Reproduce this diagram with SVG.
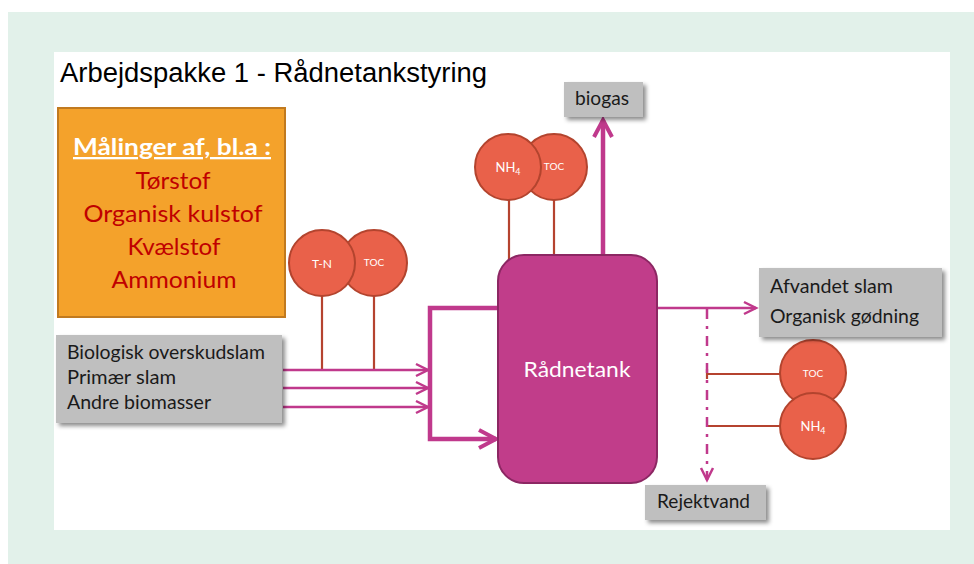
<svg xmlns="http://www.w3.org/2000/svg" width="974" height="564" viewBox="0 0 974 564">
<defs>
<style>
.cal{font-family:Lato,"Open Sans","Noto Sans",sans-serif}
.gbox{fill:#bfbfbf;filter:url(#sh)}
.gtxt{font-size:19px;fill:#1a1a1a}
.circ{fill:#e9614a;stroke:#b3442e;stroke-width:2}
.ctxt{fill:#ffffff;text-anchor:middle}
.stem{stroke:#b5432f;stroke-width:2.2;fill:none}
.pk{stroke:#c0398c;fill:none;stroke-linejoin:miter}
.thin{stroke-width:2.5}
.thick{stroke-width:4.5}
.ored{font-size:23px;fill:#c00000;text-anchor:middle}
</style>
<filter id="sh" x="-10%" y="-10%" width="130%" height="140%">
<feDropShadow dx="3" dy="3" stdDeviation="2" flood-color="#000" flood-opacity="0.45"/>
</filter>
<marker id="ah" markerUnits="userSpaceOnUse" markerWidth="16" markerHeight="16" refX="13" refY="7" orient="auto" overflow="visible">
<path d="M1,1 L13,7 L1,13" fill="none" stroke="#c0398c" stroke-width="2.5"/>
</marker>
<marker id="ahb" markerUnits="userSpaceOnUse" markerWidth="22" markerHeight="22" refX="18" refY="10" orient="auto" overflow="visible">
<path d="M1,1 L18,10 L1,19" fill="none" stroke="#c0398c" stroke-width="4"/>
</marker>
</defs>
<rect x="8" y="12" width="966" height="552" fill="#e2f1ea"/>
<rect x="54" y="52" width="896" height="478" fill="#ffffff"/>
<text x="60" y="82" font-family="Liberation Sans,Arial,sans-serif" font-size="27" fill="#000" textLength="427" lengthAdjust="spacingAndGlyphs">Arbejdspakke 1 - Rådnetankstyring</text>

<g id="maalinger">
<rect x="58" y="108" width="227" height="209" fill="#f4a22b" stroke="#c17a1f" stroke-width="2"/>
<text class="cal" x="172" y="155" font-size="23" font-weight="bold" fill="#ffffff" text-anchor="middle" text-decoration="underline" textLength="198" lengthAdjust="spacingAndGlyphs">Målinger af, bl.a :</text>
<text class="cal ored" x="173" y="189" textLength="75" lengthAdjust="spacingAndGlyphs">Tørstof</text>
<text class="cal ored" x="173" y="222" textLength="179" lengthAdjust="spacingAndGlyphs">Organisk kulstof</text>
<text class="cal ored" x="174" y="255" textLength="93" lengthAdjust="spacingAndGlyphs">Kvælstof</text>
<text class="cal ored" x="174" y="288" textLength="125" lengthAdjust="spacingAndGlyphs">Ammonium</text>
</g>

<g id="connectors">
<line class="stem" x1="322" y1="296" x2="322" y2="370"/>
<line class="stem" x1="374" y1="296" x2="374" y2="370"/>
<line class="stem" x1="509" y1="200" x2="509" y2="273"/>
<line class="stem" x1="554" y1="200" x2="554" y2="273"/>
<line class="stem" x1="707" y1="374" x2="781" y2="374"/>
<line class="stem" x1="707" y1="369" x2="707" y2="379"/>
<line class="stem" x1="707" y1="426" x2="781" y2="426"/>
<line class="pk thin" x1="283" y1="370" x2="428" y2="370" marker-end="url(#ah)"/>
<line class="pk thin" x1="283" y1="388" x2="428" y2="388" marker-end="url(#ah)"/>
<line class="pk thin" x1="283" y1="407" x2="428" y2="407" marker-end="url(#ah)"/>
<polyline class="pk thick" points="498,308 430,308 430,439 496,439" marker-end="url(#ahb)"/>
<line class="pk thick" x1="603" y1="255" x2="603" y2="120" marker-end="url(#ahb)"/>
<line class="pk thin" x1="657" y1="308" x2="756" y2="308" marker-end="url(#ah)"/>
<line class="pk thin" x1="707" y1="309" x2="707" y2="480" stroke-dasharray="10 7 3 7" marker-end="url(#ah)"/>
</g>

<g id="tn">
<circle class="circ" cx="374" cy="263" r="33"/>
<text class="cal ctxt" x="374" y="266" font-size="10">TOC</text>
<circle class="circ" cx="322" cy="263" r="33"/>
<text class="cal ctxt" x="322" y="268" font-size="12">T-N</text>
</g>

<g id="top-sensors">
<circle class="circ" cx="554" cy="167" r="33"/>
<text class="cal ctxt" x="554" y="170" font-size="10">TOC</text>
<circle class="circ" cx="508" cy="167" r="33"/>
<text class="cal ctxt" x="508" y="172" font-size="13">NH<tspan font-size="9" dy="3">4</tspan></text>
</g>

<g id="right-sensors">
<circle class="circ" cx="813" cy="373" r="33"/>
<text class="cal ctxt" x="813" y="377" font-size="10">TOC</text>
<circle class="circ" cx="813" cy="426" r="33"/>
<text class="cal ctxt" x="813" y="431" font-size="13">NH<tspan font-size="9" dy="3">4</tspan></text>
</g>

<g id="input">
<rect class="gbox" x="56" y="335" width="226" height="88"/>
<text class="cal gtxt" x="67" y="359" textLength="198" lengthAdjust="spacingAndGlyphs">Biologisk overskudslam</text>
<text class="cal gtxt" x="67" y="384" textLength="109" lengthAdjust="spacingAndGlyphs">Primær slam</text>
<text class="cal gtxt" x="67" y="409" textLength="144" lengthAdjust="spacingAndGlyphs">Andre biomasser</text>
</g>

<g id="tank">
<rect x="498" y="255" width="159" height="228" rx="26" ry="26" fill="#c13d8a" stroke="#8c2763" stroke-width="2"/>
<text class="cal" x="577" y="377" font-size="22" fill="#ffffff" text-anchor="middle" textLength="107" lengthAdjust="spacingAndGlyphs">Rådnetank</text>
</g>

<g id="biogas">
<rect class="gbox" x="564" y="82" width="79" height="35"/>
<text class="cal gtxt" x="575" y="105" textLength="54" lengthAdjust="spacingAndGlyphs">biogas</text>
</g>

<g id="afvandet">
<rect class="gbox" x="759" y="268" width="183" height="69"/>
<text class="cal gtxt" x="770" y="293" textLength="123" lengthAdjust="spacingAndGlyphs">Afvandet slam</text>
<text class="cal gtxt" x="770" y="323" textLength="149" lengthAdjust="spacingAndGlyphs">Organisk gødning</text>
</g>

<g id="rejektvand">
<rect class="gbox" x="645" y="485" width="121" height="35"/>
<text class="cal gtxt" x="657" y="508" textLength="93" lengthAdjust="spacingAndGlyphs">Rejektvand</text>
</g>
</svg>
